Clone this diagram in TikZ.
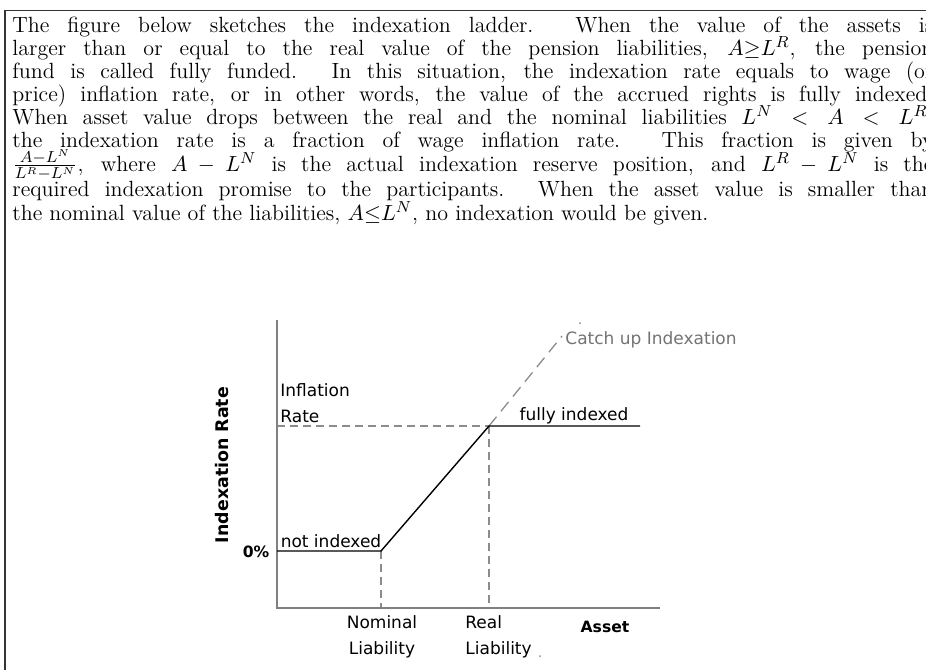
\documentclass[tikz,border=0pt]{standalone}
\usepackage{fontspec}
\newfontfamily\chartfont{DejaVu Sans}
\newcommand\fullline[1]{\makebox[460.5pt][s]{#1}}
\begin{document}
\begin{tikzpicture}[x=0.5pt,y=-0.5pt,
  bodyline/.style={anchor=base west, inner sep=0pt, font=\fontsize{11}{11.5}\selectfont},
  lbl/.style={inner sep=0pt, font=\chartfont\fontsize{8.5}{10}\selectfont},
  blbl/.style={inner sep=0pt, font=\chartfont\bfseries\fontsize{7.8}{9}\selectfont},
  axisline/.style={draw=black!50, line width=0.75pt},
  curve/.style={draw=black, line width=0.7pt},
  guide/.style={draw=black!45, line width=0.55pt, dash pattern=on 4pt off 2.5pt},
  catchup/.style={draw=black!45, line width=0.65pt, dash pattern=on 6pt off 3.5pt}]
\useasboundingbox (0,0) rectangle (926,670);
% frame
\coordinate (fb) at (5,670);
\coordinate (fc) at (5,10.5);
\coordinate (fr) at (926,10.5);
\draw[black!80, line width=0.7pt] (fb) -- (fc) -- (fr);
% text
\node[bodyline] (t1) at (12,32) {\fullline{The figure below sketches the indexation ladder.  When the value of the assets is}};
\node[bodyline] (t2) at (12,55) {\fullline{larger than or equal to the real value of the pension liabilities, $A{\geq}L^R$, the pension}};
\node[bodyline] (t3) at (12,78) {\fullline{fund is called fully funded.  In this situation, the indexation rate equals to wage (or}};
\node[bodyline] (t4) at (12,101) {\fullline{price) inflation rate, or in other words, the value of the accrued rights is fully indexed.}};
\node[bodyline] (t5) at (12,124) {\fullline{When asset value drops between the real and the nominal liabilities $L^N<A<L^R$,}};
\node[bodyline] (t6) at (12,147) {\fullline{the indexation rate is a fraction of wage inflation rate.  This fraction is given by}};
\node[bodyline] (t7) at (12,171) {\fullline{$\frac{A-L^N}{L^R-L^N}$, where $A-L^N$ is the actual indexation reserve position, and $L^R-L^N$ is the}};
\node[bodyline] (t8) at (12,196) {\fullline{required indexation promise to the participants.  When the asset value is smaller than}};
\node[bodyline] (t9) at (12,220) {the nominal value of the liabilities, $A{\leq}L^N$, no indexation would be given.};
% chart coordinates
\coordinate (O) at (277,608);
\coordinate (ytop) at (277,320);
\coordinate (xend) at (660,608);
\coordinate (z0) at (277,551);
\coordinate (N0) at (381,551);
\coordinate (R0) at (489,426);
\coordinate (i0) at (277,426);
\coordinate (fe) at (640,426);
\coordinate (Nb) at (381,608);
\coordinate (Rb) at (489,608);
\coordinate (ce) at (562,336);
% guides
\draw[guide] (i0) -- (R0);
\draw[guide] (N0) -- (Nb);
\draw[guide] (R0) -- (Rb);
\draw[catchup] (R0) -- (ce);
% axes
\draw[axisline] (ytop) -- (O) -- (xend);
% indexation curve
\draw[curve] (z0) -- (N0) -- (R0) -- (fe);
% labels
\node[lbl, anchor=west] (infl) at (280,390) {Inflation};
\node[lbl, anchor=west] (rate) at (280,416) {Rate};
\node[lbl] (fully) at (574,416) {fully indexed};
\node[lbl] (noti) at (331,541) {not indexed};
\node[blbl] (zero) at (256,552) {0\%};
\node[lbl] (nom1) at (382,622) {Nominal};
\node[lbl] (nom2) at (382,650) {Liability};
\node[lbl, anchor=west] (real1) at (465,622) {Real};
\node[lbl, anchor=west] (real2) at (465,650) {Liability};
\node[blbl] (asset) at (605,627) {Asset};
\node[blbl, rotate=90, font=\chartfont\bfseries\fontsize{8.7}{10}\selectfont] (yl) at (222,465) {Indexation Rate};
\node[lbl, anchor=west, text=black!55] (catch) at (565,340) {Catch up Indexation};
\fill[black!45] (540,656) circle (1);
\fill[black!45] (580,323) circle (1);
\end{tikzpicture}
\end{document}
